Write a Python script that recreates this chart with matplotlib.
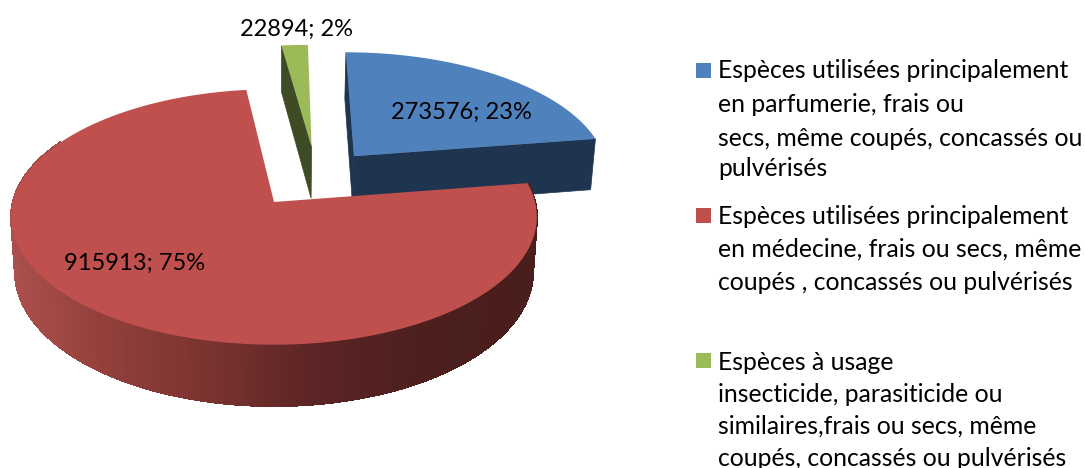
import numpy as np
import matplotlib
matplotlib.use('Agg')
import matplotlib.pyplot as plt
from matplotlib.colors import to_rgb

values = [273576, 915913, 22894]
percents = [23, 75, 2]
top_colors = ['#4F81BD', '#C0504D', '#9BBB59']
side_colors = ['#1F344F', '#4A1E1C', '#3F4B24']
legend_lines = [
    ['Espèces utilisées principalement', 'en parfumerie, frais ou',
     'secs, même coupés, concassés ou', 'pulvérisés'],
    ['Espèces utilisées principalement', 'en médecine, frais ou secs, même',
     'coupés , concassés ou pulvérisés'],
    ['Espèces à usage', 'insecticide, parasiticide ou',
     'similaires,frais ou secs, même', 'coupés, concassés ou pulvérisés'],
]
legend_y = [[71, 104, 138, 169], [217, 249, 283], [363, 394, 426, 458]]
legend_box_y = [70, 215, 360]
label_pos = [(461, 112), (135, 263), (296, 29)]

# pie geometry in pixels, p is the perspective strength
cx, cy, a, b, p, depth = 274, 202, 261, 126, 0.117, 54
shrink = 0.985  # lower rim is a little narrower than the top
offsets = [(0.32, 0.38), (0, 0), (0.152, 0.46)]
grad_x = [10, 100, 200, 300, 420, 540]
grad_c = ['#AB504C', '#93403C', '#7C3431', '#5F2626', '#4C1F1D', '#4A1E1C']


def project(theta, r, off):
    X = r * np.sin(theta) + off[0]
    Y = r * np.cos(theta) + off[1]
    w = 1 + p * Y
    return cx + a * X / w, cy - b * Y / w, depth / w


def lower(x):
    return cx + (x - cx) * shrink


def slice_top(t0, t1, off):
    th = np.linspace(t0, t1, 200)
    x, y, _ = project(th, 1, off)
    x0, y0, _ = project(0.0, 0, off)
    return np.r_[x0, x], np.r_[y0, y]


def cut_face(t, off, ax, color):
    x0, y0, d0 = project(0.0, 0, off)
    x1, y1, d1 = project(t, 1, off)
    ax.fill([x0, x1, lower(x1), lower(x0)], [y0, y1, y1 + d1, y0 + d0],
            color=color, lw=0.5)


plt.rcParams['font.family'] = ['Lato', 'DejaVu Sans']
fig = plt.figure(figsize=(10.85, 4.68), dpi=100)
ax = fig.add_axes([0, 0, 1, 1])
ax.set_xlim(0, 1085)
ax.set_ylim(468, 0)
ax.axis('off')

edges = np.radians(np.r_[0, np.cumsum(values)] / sum(values) * 360)

# green is furthest back, then blue, red goes on top of both
t0, t1 = edges[2], edges[3]
cut_face(t0, offsets[2], ax, side_colors[2])
x, y = slice_top(t0, t1, offsets[2])
ax.fill(x, y, color=top_colors[2], lw=0)

t0, t1 = edges[0], edges[1]
cut_face(t0, offsets[0], ax, side_colors[0])
cut_face(t1, offsets[0], ax, side_colors[0])
x, y = slice_top(t0, t1, offsets[0])
ax.fill(x, y, color=top_colors[0], lw=0)

# red wall, shaded from left to right in thin strips
t0, t1 = edges[1], edges[2]
rgb = np.array([to_rgb(c) for c in grad_c])
th = np.linspace(t0, np.radians(300), 300)
xs, ys, ds = project(th, 1, offsets[1])
for i in range(len(th) - 1):
    mid = (xs[i] + xs[i + 1]) / 2
    col = [np.interp(mid, grad_x, rgb[:, k]) for k in range(3)]
    ax.fill([xs[i], xs[i + 1], lower(xs[i + 1]), lower(xs[i])],
            [ys[i], ys[i + 1], ys[i + 1] + ds[i + 1], ys[i] + ds[i]],
            color=col, lw=1, antialiased=False)
x, y = slice_top(t0, t1, offsets[1])
ax.fill(x, y, color=top_colors[1], lw=0)

for v, pc, pos in zip(values, percents, label_pos):
    ax.text(pos[0], pos[1], f'{v}; {pc}%', ha='center', va='center',
            fontsize=17, color='black')

for col, lines, ys_, by in zip(top_colors, legend_lines, legend_y, legend_box_y):
    ax.fill([696, 711, 711, 696], [by - 7.5, by - 7.5, by + 7.5, by + 7.5],
            color=col, lw=0)
    for line, ly in zip(lines, ys_):
        ax.text(718, ly, line, ha='left', va='center', fontsize=17.8, color='black')

fig.savefig('out.png', dpi=100)
